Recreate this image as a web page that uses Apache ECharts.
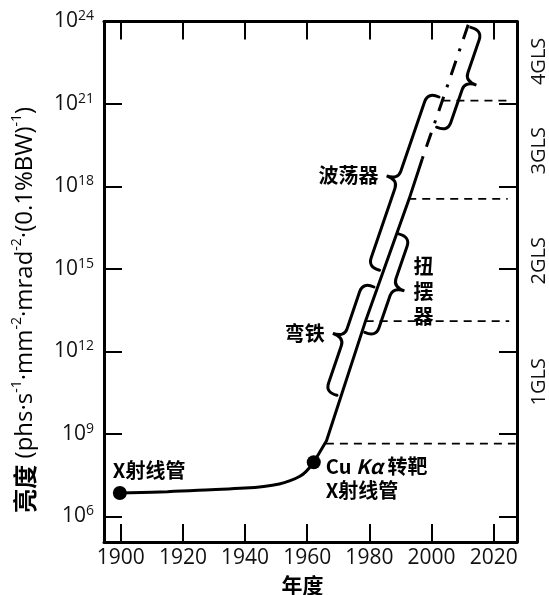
<!DOCTYPE html>
<html>
<head>
<meta charset="utf-8">
<script src="https://cdn.jsdelivr.net/npm/echarts@6/dist/echarts.min.js"></script>
<style>
html,body{margin:0;padding:0;background:#fff;}
#chart{width:549px;height:595px;}
</style>
</head>
<body>
<div id="chart"></div>
<script>
// brightness kept as log10 values (10^n)
var yearTicks = [1900, 1920, 1940, 1960, 1980, 2000, 2020];
var expTicks = [6, 9, 12, 15, 18, 21, 24];

var tubeYears = [1899.7, 1915, 1929, 1940, 1946, 1951, 1954.5, 1957.5, 1959.5, 1962.1];
var tubeExp = [6.85, 6.9, 6.97, 7.03, 7.09, 7.18, 7.3, 7.45, 7.62, 7.97];

var sourceYears = [1962.1, 1966.2, 1978.8, 1992.8, 1997];
var sourceExp = [7.97, 8.75, 13.12, 17.55, 19.0];

var futureYears = [2011.8, 2003.5, 1997];
var futureExp = [23.88, 21.13, 19.0];

var dotYears = [1899.7, 1962.1];
var dotExp = [6.85, 7.97];
var dotNames = ['X射线管', 'Cu Kα 转靶\nX射线管'];

var glsLevels = [8.65, 13.1, 17.55, 21.12];
var glsStart = [1966, 1978.8, 1992.5, 2003.5];
var glsEnd = [2027, 2025, 2024.5, 2025.8];

var glsNames = ['1GLS', '2GLS', '3GLS', '4GLS'];
var glsMid = [10.9, 15.3, 19.3, 22.55];

var braceNames = ['弯铁', '扭摆器', '波荡器', ''];
var braceFrom = [[1970.5, 10.37], [1977.6, 12.73], [1984.2, 14.92], [2000.7, 20.19]];
var braceTo = [[1982.4, 14.31], [1988.5, 16.31], [2003.3, 21.22], [2011.7, 23.82]];
var braceSide = [1, -1, 1, -1];

var cjk = "'Noto Sans CJK SC', sans-serif";
var latin = "'Open Sans', 'Noto Sans', sans-serif";

function pairs(xs, ys) {
    var out = [];
    for (var i = 0; i < xs.length; i++) out.push([xs[i], ys[i]]);
    return out;
}

function renderBrace(params, api) {
    var p0 = api.coord([api.value(0), api.value(1)]);
    var p1 = api.coord([api.value(2), api.value(3)]);
    var side = api.value(4);
    var dx = p1[0] - p0[0], dy = p1[1] - p0[1];
    var len = Math.sqrt(dx * dx + dy * dy);
    var ux = dx / len, uy = dy / len;
    var nx = uy * side, ny = -ux * side;
    function pt(s, t) {
        return (p0[0] + ux * s + nx * t).toFixed(1) + ' ' + (p0[1] + uy * s + ny * t).toFixed(1);
    }
    var a = 3, b = 15, c = 27, r = 9, m = len / 2;
    var d = 'M' + pt(0, a) + ' Q' + pt(-1, b) + ' ' + pt(r, b) +
        ' L' + pt(m - r, b) + ' Q' + pt(m, b) + ' ' + pt(m, c) +
        ' Q' + pt(m, b) + ' ' + pt(m + r, b) +
        ' L' + pt(len - r, b) + ' Q' + pt(len + 1, b) + ' ' + pt(len, a);
    var cx = p0[0] + ux * m + nx * c, cy = p0[1] + uy * m + ny * c;
    var name = braceNames[params.dataIndex];
    var children = [{
        type: 'path',
        shape: {pathData: d},
        style: {fill: null, stroke: '#000', lineWidth: 3, lineCap: 'round'}
    }];
    if (name) {
        children.push({
            type: 'text',
            x: side > 0 ? cx - 8 : cx + 9,
            y: cy,
            style: {
                text: side > 0 ? name : name.split('').join('\n'),
                fill: '#000',
                fontSize: 20,
                fontWeight: 'bold',
                fontFamily: cjk,
                lineHeight: 25,
                align: side > 0 ? 'right' : 'left',
                verticalAlign: 'middle'
            }
        });
    }
    return {type: 'group', children: children};
}

var braceData = [];
for (var i = 0; i < braceFrom.length; i++) {
    braceData.push([braceFrom[i][0], braceFrom[i][1], braceTo[i][0], braceTo[i][1], braceSide[i]]);
}

var series = [
    {
        type: 'line',
        data: pairs(tubeYears, tubeExp),
        smooth: 0.4,
        symbol: 'none',
        lineStyle: {color: '#000', width: 3}
    },
    {
        type: 'line',
        data: pairs(sourceYears, sourceExp),
        symbol: 'none',
        lineStyle: {color: '#000', width: 3}
    },
    {
        type: 'line',
        data: pairs(futureYears, futureExp),
        symbol: 'none',
        lineStyle: {color: '#000', width: 3, type: [15, 10, 3, 10]}
    }
];

for (var k = 0; k < glsLevels.length; k++) {
    series.push({
        type: 'line',
        data: [[glsStart[k], glsLevels[k]], [glsEnd[k], glsLevels[k]]],
        symbol: 'none',
        lineStyle: {color: '#000', width: 1.8, type: [8, 6]}
    });
}

series.push({
    type: 'custom',
    renderItem: renderBrace,
    data: braceData,
    encode: {x: [0, 2], y: [1, 3]},
    clip: false
});

series.push({
    type: 'scatter',
    symbolSize: 14,
    itemStyle: {color: '#000', opacity: 1},
    data: [
        {
            value: [dotYears[0], dotExp[0]], name: dotNames[0],
            label: {show: true, position: [0, -4], align: 'left', verticalAlign: 'bottom'}
        },
        {
            value: [dotYears[1], dotExp[1]], name: dotNames[1],
            label: {show: true, position: [19, -1], align: 'left', verticalAlign: 'top'}
        }
    ],
    label: {
        formatter: function (p) { return p.name.replace('Kα', '{i|Kα}'); },
        color: '#000',
        fontSize: 20,
        fontWeight: 'bold',
        fontFamily: cjk,
        lineHeight: 24,
        rich: {
            i: {fontStyle: 'italic', fontSize: 20, fontWeight: 'bold', fontFamily: cjk, color: '#000', lineHeight: 24}
        }
    }
});

var axisLine = {show: true, lineStyle: {color: '#000', width: 3}};
var tickStyle = {color: '#000', width: 2};

var myChart = echarts.init(document.getElementById('chart'));
var option = {
    animation: false,
    grid: {left: 104, right: 32, top: 21.5, bottom: 53, containLabel: false, outerBoundsMode: 'none'},
    xAxis: [
        {
            type: 'value', min: 1894.6, max: 2027.5,
            name: '年度', nameLocation: 'middle', nameGap: 33,
            nameTextStyle: {fontSize: 21, fontWeight: 'bold', fontFamily: cjk, color: '#000', padding: [0, 16, 0, 0]},
            axisLine: axisLine,
            axisTick: {show: true, inside: true, length: 18, customValues: yearTicks, lineStyle: tickStyle},
            axisLabel: {
                customValues: yearTicks, fontSize: 21, fontFamily: latin, color: '#111', margin: 6,
                formatter: function (v) { return String(v); }
            },
            splitLine: {show: false}
        },
        {
            type: 'value', position: 'top', min: 1894.6, max: 2027.5,
            axisLine: axisLine,
            axisTick: {show: true, inside: true, length: 18, customValues: yearTicks, lineStyle: tickStyle},
            axisLabel: {show: false},
            splitLine: {show: false}
        }
    ],
    yAxis: [
        {
            type: 'value', min: 5.07, max: 24,
            name: '{b|亮度}{n| (phs·s}{s|-1}{n|·mm}{s|-2}{n|·mrad}{s|-2}{n|·(0.1%BW)}{s|-1}{n|)}',
            nameLocation: 'middle', nameRotate: 90, nameGap: 64,
            nameTextStyle: {
                padding: [0, 56, 0, 0],
                rich: {
                    b: {fontSize: 24, fontWeight: 'bold', fontFamily: cjk, color: '#000', lineHeight: 30},
                    n: {fontSize: 24, fontFamily: latin, color: '#000', lineHeight: 30},
                    s: {fontSize: 14, fontFamily: latin, color: '#000', verticalAlign: 'top', lineHeight: 15}
                }
            },
            axisLine: axisLine,
            axisTick: {show: true, inside: true, length: 18, customValues: expTicks, lineStyle: tickStyle},
            axisLabel: {
                customValues: expTicks, margin: 10,
                formatter: function (v) { return '{a|10}{b|' + v + '}'; },
                rich: {
                    a: {fontSize: 21, fontFamily: latin, color: '#111', lineHeight: 24},
                    b: {fontSize: 14, fontFamily: latin, color: '#111', verticalAlign: 'top', lineHeight: 15}
                }
            },
            splitLine: {show: false}
        },
        {
            type: 'value', position: 'right', min: 5.07, max: 24,
            axisLine: axisLine,
            axisTick: {show: true, inside: true, length: 18, customValues: expTicks, lineStyle: tickStyle},
            axisLabel: {
                customValues: glsMid, rotate: 90, margin: 12,
                fontSize: 20, fontFamily: latin, color: '#111',
                formatter: function (v) { return glsNames[glsMid.indexOf(v)]; }
            },
            splitLine: {show: false}
        }
    ],
    series: series
};
myChart.setOption(option);
</script>
</body>
</html>
